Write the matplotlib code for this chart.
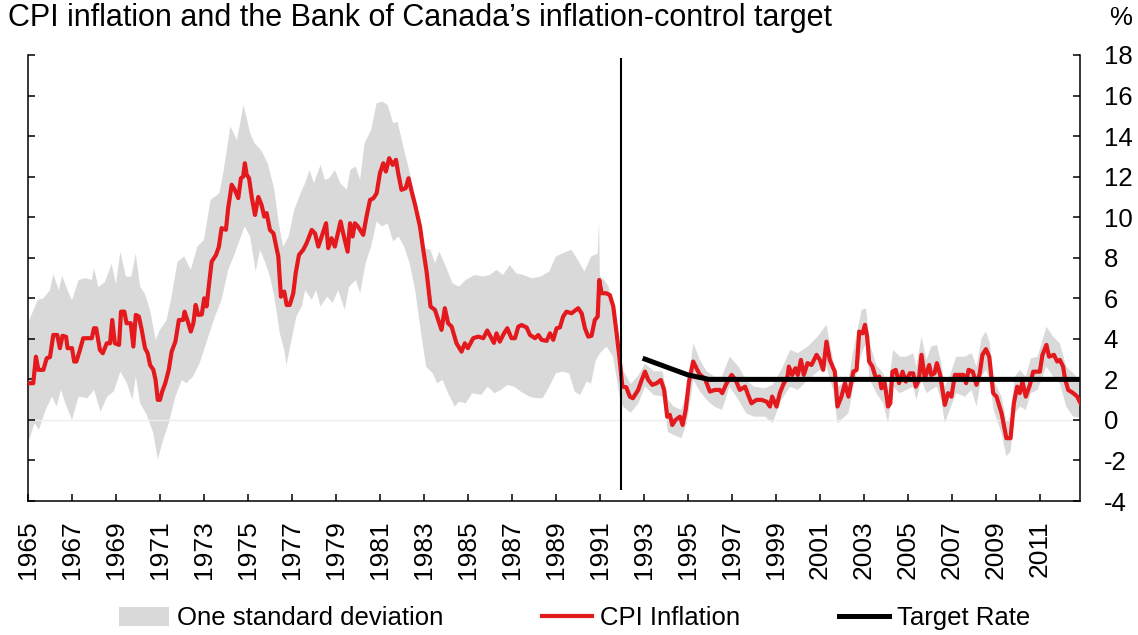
import numpy as np
import matplotlib
matplotlib.use("Agg")
import matplotlib.pyplot as plt
from matplotlib.patches import Patch
from matplotlib.lines import Line2D

plt.rcParams['font.family'] = ['Liberation Sans', 'DejaVu Sans']

# ---------------------------------------------------------------
# Data
# ---------------------------------------------------------------

cpi_years = [
	1965.0, 1965.24, 1965.36, 1965.47, 1965.7, 1965.85, 1966.0, 1966.15, 1966.33, 1966.45,
	1966.57, 1966.73, 1966.8, 1967.0, 1967.1, 1967.2, 1967.36, 1967.51, 1967.9, 1968.0,
	1968.1, 1968.27, 1968.4, 1968.58, 1968.73, 1968.83, 1968.95, 1969.14, 1969.23, 1969.38,
	1969.48, 1969.67, 1969.79, 1969.9, 1970.04, 1970.17, 1970.32, 1970.44, 1970.55, 1970.7,
	1970.8, 1970.9, 1971.0, 1971.1, 1971.24, 1971.4, 1971.53, 1971.7, 1971.86, 1972.05,
	1972.12, 1972.29, 1972.4, 1972.52, 1972.62, 1972.74, 1972.9, 1973.01, 1973.12, 1973.2,
	1973.35, 1973.55, 1973.68, 1973.8, 1974.0, 1974.1, 1974.26, 1974.4, 1974.56, 1974.68,
	1974.78, 1974.86, 1974.94, 1975.05, 1975.17, 1975.32, 1975.47, 1975.62, 1975.74, 1975.85,
	1976.0, 1976.16, 1976.38, 1976.5, 1976.65, 1976.76, 1976.9, 1977.06, 1977.17, 1977.32,
	1977.51, 1977.66, 1977.9, 1978.05, 1978.2, 1978.35, 1978.55, 1978.65, 1978.8, 1978.95,
	1979.21, 1979.33, 1979.53, 1979.64, 1979.76, 1979.86, 1980.0, 1980.24, 1980.39, 1980.55,
	1980.7, 1980.85, 1981.0, 1981.15, 1981.27, 1981.42, 1981.58, 1981.73, 1981.83, 1981.98,
	1982.17, 1982.3, 1982.44, 1982.6, 1982.82, 1982.97, 1983.12, 1983.3, 1983.5, 1983.65,
	1983.8, 1983.95, 1984.1, 1984.26, 1984.48, 1984.71, 1984.86, 1985.0, 1985.24, 1985.47,
	1985.7, 1985.88, 1986.03, 1986.18, 1986.3, 1986.45, 1986.64, 1986.79, 1986.98, 1987.14,
	1987.29, 1987.44, 1987.67, 1987.82, 1988.05, 1988.2, 1988.35, 1988.58, 1988.73, 1988.88,
	1989.03, 1989.18, 1989.33, 1989.48, 1989.71, 1990.01, 1990.17, 1990.32, 1990.47, 1990.62,
	1990.77, 1990.9, 1990.97, 1991.08, 1991.28, 1991.45, 1991.61, 1991.76, 1991.9, 1992.02,
	1992.2, 1992.36, 1992.5, 1992.74, 1992.9, 1993.05, 1993.2, 1993.38, 1993.58, 1993.77,
	1993.92, 1994.06, 1994.18, 1994.29, 1994.44, 1994.64, 1994.76, 1994.9, 1995.05, 1995.24,
	1995.39, 1995.55, 1995.77, 1996.0, 1996.23, 1996.45, 1996.56, 1996.76, 1996.99, 1997.17,
	1997.36, 1997.6, 1997.74, 1997.89, 1998.12, 1998.35, 1998.58, 1998.73, 1998.83, 1999.03,
	1999.18, 1999.33, 1999.53, 1999.59, 1999.74, 1999.89, 2000.0, 2000.14, 2000.27, 2000.44,
	2000.62, 2000.85, 2001.0, 2001.15, 2001.3, 2001.45, 2001.68, 2001.8, 2001.98, 2002.14,
	2002.3, 2002.52, 2002.67, 2002.79, 2002.94, 2003.05, 2003.15, 2003.24, 2003.39, 2003.55,
	2003.7, 2003.8, 2003.95, 2004.1, 2004.2, 2004.3, 2004.45, 2004.6, 2004.76, 2004.91,
	2005.09, 2005.24, 2005.36, 2005.5, 2005.62, 2005.77, 2005.97, 2006.06, 2006.21, 2006.32,
	2006.47, 2006.68, 2006.83, 2006.98, 2007.14, 2007.3, 2007.53, 2007.65, 2007.76, 2007.95,
	2008.12, 2008.27, 2008.39, 2008.55, 2008.7, 2008.88, 2009.03, 2009.26, 2009.48, 2009.67,
	2009.82, 2009.97, 2010.09, 2010.21, 2010.36, 2010.55, 2010.7, 2010.88, 2011.0, 2011.12,
	2011.3, 2011.42, 2011.64, 2011.79, 2011.91, 2012.06, 2012.14, 2012.29, 2012.52, 2012.7,
	2012.85,
]
cpi_values = [
	1.81, 1.81, 3.12, 2.47, 2.47, 3.04, 3.1, 4.19, 4.19, 3.54,
	4.15, 4.1, 3.54, 3.54, 2.88, 2.88, 3.45, 4.03, 4.03, 4.52,
	4.52, 3.45, 3.29, 3.78, 3.78, 4.93, 3.78, 3.70, 5.34, 5.34,
	4.77, 4.77, 3.62, 5.18, 5.1, 4.44, 3.54, 3.29, 2.71, 2.47,
	1.97, 0.99, 0.99, 1.40, 1.81, 2.47, 3.37, 3.86, 4.93, 4.93,
	5.34, 4.77, 4.36, 4.77, 5.67, 5.18, 5.2, 6.0, 5.6, 6.41,
	7.81, 8.14, 8.55, 9.46, 9.38, 10.44, 11.6, 11.35, 10.94, 11.92,
	12.0, 12.66, 12.1, 11.92, 11.0, 10.11, 11.0, 10.6, 10.03, 10.2,
	9.37, 9.2, 8.06, 6.08, 6.33, 5.67, 5.67, 6.25, 7.24, 8.14,
	8.39, 8.7, 9.37, 9.2, 8.55, 9.05, 9.7, 8.47, 8.96, 8.55,
	9.79, 9.2, 8.3, 9.7, 9.05, 9.7, 9.54, 9.13, 10.03, 10.85,
	10.93, 11.18, 12.17, 12.66, 12.25, 12.91, 12.58, 12.83, 12.17, 11.35,
	11.43, 11.92, 11.27, 10.6, 9.54, 8.39, 7.32, 5.59, 5.43, 4.93,
	4.44, 5.51, 4.77, 4.6, 3.78, 3.37, 3.78, 3.54, 4.03, 4.11,
	4.03, 4.41, 4.11, 3.8, 4.27, 3.86, 4.27, 4.52, 4.03, 4.03,
	4.6, 4.68, 4.56, 4.19, 4.03, 4.19, 3.95, 3.9, 4.27, 3.95,
	4.52, 4.56, 5.1, 5.34, 5.26, 5.51, 5.26, 4.52, 4.11, 4.15,
	4.93, 5.1, 6.9, 6.25, 6.25, 6.16, 5.59, 4.27, 2.96, 1.64,
	1.61, 1.15, 1.07, 1.48, 1.97, 2.38, 1.97, 1.73, 1.81, 1.97,
	1.48, 0.16, 0.25, -0.25, 0.0, 0.16, -0.25, 0.49, 1.89, 2.88,
	2.55, 2.22, 2.05, 1.40, 1.48, 1.48, 1.32, 1.81, 2.22, 1.97,
	1.48, 1.64, 1.23, 0.82, 0.99, 0.99, 0.9, 0.66, 1.15, 0.66,
	1.32, 1.73, 2.14, 2.63, 2.22, 2.55, 2.22, 2.96, 2.22, 2.8,
	2.71, 3.21, 2.96, 2.47, 3.86, 2.96, 2.38, 0.66, 1.15, 1.81,
	1.15, 2.38, 2.47, 4.36, 4.27, 4.69, 4.11, 2.88, 2.63, 2.05,
	2.14, 1.56, 1.81, 0.66, 0.82, 2.38, 2.47, 1.81, 2.38, 1.89,
	2.30, 2.30, 1.64, 1.97, 3.21, 2.05, 2.71, 2.22, 2.30, 2.8,
	2.22, 0.74, 1.32, 1.15, 2.22, 2.22, 2.22, 1.81, 2.47, 2.38,
	1.73, 2.30, 3.21, 3.49, 3.12, 1.32, 1.15, 0.33, -0.9, -0.9,
	0.82, 1.64, 1.32, 1.89, 1.15, 1.73, 2.38, 2.38, 2.38, 3.21,
	3.70, 3.12, 3.21, 2.88, 2.96, 2.63, 2.05, 1.48, 1.32, 1.15,
	0.82,
]

# upper edge of the one-standard-deviation band
band_hi_years = [
	1965.0, 1965.45, 1965.7, 1966.0, 1966.15, 1966.4, 1966.55, 1966.8, 1967.0, 1967.3,
	1967.6, 1967.9, 1968.0, 1968.2, 1968.5, 1968.8, 1969.0, 1969.2, 1969.45, 1969.7,
	1969.9, 1970.1, 1970.3, 1970.55, 1970.8, 1971.0, 1971.3, 1971.5, 1971.8, 1972.1,
	1972.4, 1972.7, 1973.0, 1973.3, 1973.7, 1973.9, 1974.2, 1974.5, 1974.8, 1975.1,
	1975.3, 1975.6, 1975.9, 1976.2, 1976.4, 1976.6, 1976.85, 1977.1, 1977.4, 1977.6,
	1977.8, 1978.0, 1978.3, 1978.5, 1978.7, 1978.95, 1979.2, 1979.5, 1979.65, 1979.9,
	1980.1, 1980.3, 1980.6, 1980.85, 1981.1, 1981.35, 1981.6, 1981.8, 1982.1, 1982.4,
	1982.7, 1983.0, 1983.3, 1983.5, 1983.7, 1984.0, 1984.3, 1984.6, 1984.9, 1985.3,
	1985.7, 1986.0, 1986.3, 1986.6, 1986.9, 1987.2, 1987.5, 1987.9, 1988.3, 1988.7,
	1989.0, 1989.3, 1989.7, 1990.0, 1990.3, 1990.6, 1990.9, 1990.96, 1991.0, 1991.2,
	1991.4, 1991.6, 1991.8, 1991.95, 1992.05, 1992.4, 1992.75, 1993.05, 1993.45, 1993.85,
	1994.1, 1994.35, 1994.7, 1994.95, 1995.25, 1995.55, 1995.85, 1996.2, 1996.55, 1996.9,
	1997.3, 1997.65, 1998.0, 1998.5, 1998.85, 1999.25, 1999.65, 2000.0, 2000.45, 2000.9,
	2001.3, 2001.6, 2001.8, 2002.3, 2002.5, 2002.9, 2003.1, 2003.27, 2003.57, 2003.88,
	2004.1, 2004.33, 2004.64, 2004.94, 2005.24, 2005.39, 2005.62, 2005.85, 2006.06, 2006.32,
	2006.52, 2006.68, 2006.9, 2007.2, 2007.6, 2007.9, 2008.12, 2008.35, 2008.55, 2008.73,
	2008.9, 2009.26, 2009.48, 2009.67, 2009.86, 2010.1, 2010.36, 2010.6, 2010.9, 2011.3,
	2011.6, 2011.91, 2012.2, 2012.52, 2012.85,
]
band_hi_values = [
	4.78, 5.92, 6.0, 6.4, 7.2, 6.4, 7.1, 6.4, 5.9, 6.9,
	7.0, 6.9, 7.5, 6.56, 6.8, 7.7, 6.7, 8.3, 7.07, 7.07,
	8.2, 6.56, 6.25, 5.43, 3.95, 4.44, 4.93, 5.92, 7.8, 8.06,
	7.4, 8.55, 8.88, 10.85, 11.18, 12.33, 14.47, 13.8, 15.54, 14.14,
	13.65, 13.3, 12.66, 11.35, 9.7, 8.55, 9.05, 10.35, 11.2, 11.67,
	12.33, 11.67, 12.58, 11.84, 11.92, 12.33, 11.67, 11.35, 12.33, 12.5,
	11.84, 13.65, 14.3, 15.62, 15.7, 15.54, 14.63, 14.7, 13.32, 12.0,
	10.52, 8.47, 8.39, 7.73, 8.3, 7.56, 6.74, 6.57, 6.9, 7.15,
	7.07, 7.15, 7.4, 7.15, 7.64, 7.23, 7.15, 6.99, 7.07, 7.32,
	8.06, 8.22, 8.39, 7.89, 7.32, 8.06, 8.2, 9.8, 7.1, 6.9,
	6.57, 5.59, 4.44, 2.6, 2.45, 1.77, 2.2, 2.78, 2.4, 2.4,
	1.0, 0.66, 0.49, 1.32, 3.78, 2.96, 2.4, 2.14, 2.14, 3.12,
	2.63, 1.97, 1.64, 1.56, 1.73, 2.47, 3.45, 3.29, 3.62, 4.11,
	4.69, 2.96, 1.64, 1.97, 3.29, 5.43, 5.5, 3.78, 2.71, 2.3,
	1.48, 3.45, 3.12, 3.12, 3.29, 2.63, 4.11, 2.96, 3.62, 3.7,
	2.8, 1.64, 2.14, 3.12, 3.12, 3.29, 2.63, 4.03, 4.36, 3.78,
	1.97, 1.15, -0.08, 0.16, 2.14, 2.47, 2.14, 3.04, 3.12, 4.6,
	4.11, 3.78, 2.63, 2.3, 1.89,
]

# lower edge of the one-standard-deviation band
band_lo_years = [
	1965.0, 1965.3, 1965.5, 1965.8, 1966.1, 1966.3, 1966.5, 1966.7, 1967.0, 1967.3,
	1967.7, 1968.0, 1968.3, 1968.6, 1968.9, 1969.2, 1969.5, 1969.75, 1969.9, 1970.1,
	1970.4, 1970.7, 1970.9, 1971.1, 1971.4, 1971.7, 1972.0, 1972.2, 1972.5, 1972.8,
	1973.1, 1973.5, 1973.8, 1974.1, 1974.35, 1974.6, 1974.85, 1975.1, 1975.35, 1975.55,
	1975.8, 1976.0, 1976.2, 1976.45, 1976.65, 1976.75, 1976.95, 1977.2, 1977.45, 1977.6,
	1977.9, 1978.1, 1978.3, 1978.6, 1978.85, 1979.1, 1979.4, 1979.6, 1979.9, 1980.1,
	1980.35, 1980.6, 1980.85, 1981.1, 1981.35, 1981.6, 1981.85, 1982.1, 1982.35, 1982.6,
	1982.85, 1983.1, 1983.4, 1983.6, 1983.85, 1984.1, 1984.4, 1984.6, 1984.9, 1985.2,
	1985.6, 1985.9, 1986.2, 1986.5, 1986.8, 1987.1, 1987.4, 1987.8, 1988.1, 1988.4,
	1988.7, 1989.0, 1989.3, 1989.6, 1989.85, 1990.1, 1990.4, 1990.6, 1990.8, 1991.0,
	1991.3, 1991.6, 1991.9, 1992.05, 1992.4, 1992.75, 1993.05, 1993.45, 1993.85, 1994.1,
	1994.35, 1994.7, 1994.95, 1995.25, 1995.55, 1995.85, 1996.2, 1996.55, 1996.9, 1997.3,
	1997.65, 1998.0, 1998.5, 1998.85, 1999.25, 1999.65, 2000.0, 2000.45, 2000.9, 2001.3,
	2001.6, 2001.8, 2002.3, 2002.5, 2002.9, 2003.1, 2003.27, 2003.57, 2003.88, 2004.1,
	2004.33, 2004.64, 2004.94, 2005.24, 2005.39, 2005.62, 2005.85, 2006.06, 2006.32, 2006.52,
	2006.68, 2006.9, 2007.2, 2007.6, 2007.9, 2008.12, 2008.35, 2008.55, 2008.73, 2008.9,
	2009.26, 2009.48, 2009.67, 2009.86, 2010.1, 2010.36, 2010.6, 2010.9, 2011.3, 2011.6,
	2011.91, 2012.2, 2012.52, 2012.85,
]
band_lo_values = [
	-1.15, -0.16, -0.49, 0.49, 1.15, 0.66, 1.48, 0.82, 0.0, 1.15,
	1.07, 1.48, 0.41, 1.15, 1.4, 2.38, 1.81, 0.99, 2.14, 0.82,
	0.25, -0.66, -1.97, -1.15, -0.16, 1.15, 1.97, 1.81, 2.14, 2.79,
	3.78, 5.1, 5.92, 7.4, 8.06, 8.8, 9.54, 9.05, 7.32, 8.39,
	7.73, 7.07, 6.08, 4.27, 3.45, 2.71, 3.78, 5.1, 5.6, 6.41,
	5.92, 6.41, 5.59, 6.08, 5.76, 6.41, 5.43, 6.57, 6.9, 6.25,
	7.73, 8.55, 9.79, 9.54, 9.7, 8.8, 9.05, 8.55, 7.73, 6.41,
	4.44, 2.63, 2.3, 1.81, 1.97, 1.32, 0.66, 0.9, 0.82, 1.32,
	1.23, 1.64, 1.32, 1.48, 1.73, 1.64, 1.4, 1.15, 1.07, 1.07,
	1.64, 2.3, 2.38, 2.3, 1.4, 1.23, 1.9, 1.8, 2.9, 3.29,
	3.62, 3.12, 1.15, 0.66, 0.35, 0.82, 1.64, 1.23, 1.15, -0.6,
	-0.74, -0.9, -0.16, 1.97, 1.4, 0.99, 0.66, 0.49, 1.64, 0.99,
	0.33, 0.16, 0.16, -0.16, 0.99, 1.64, 1.48, 1.97, 2.38, 2.63,
	1.48, -0.16, 0.33, 1.48, 3.29, 3.78, 1.97, 1.32, 0.82, -0.16,
	1.64, 1.32, 1.48, 1.64, 0.99, 1.97, 1.32, 1.48, 1.64, 0.99,
	-0.16, 0.49, 1.32, 1.15, 1.48, 0.66, 2.14, 2.47, 1.97, 0.49,
	-0.66, -1.8, -1.56, 0.33, 0.66, 0.49, 1.32, 1.48, 2.63, 2.14,
	1.81, 0.66, 0.16, 0.1,
]

target_years  = [1993.05, 1995.0, 1995.95, 2012.85]
target_values = [3.0, 2.22, 2.0, 2.0]

regime_year  = 1991.95
regime_span  = (-3.45, 17.85)

x_ticks = list(range(1965, 2012, 2))
y_ticks = list(range(-4, 19, 2))

# ---------------------------------------------------------------
# Plot
# ---------------------------------------------------------------

RED   = "#e3191e"
GREY  = "#d9d9d9"

fig = plt.figure(figsize=(11.38, 6.35), dpi=100)
ax = fig.add_axes([0.0246, 0.211, 0.9245, 0.7024])

band_x = np.r_[band_hi_years, band_lo_years[::-1]]
band_y = np.r_[band_hi_values, band_lo_values[::-1]]
ax.fill(band_x, band_y, color=GREY, linewidth=0, zorder=1)

ax.axhline(0, color="#eeeeee", linewidth=1.0, zorder=1.5)
ax.plot(cpi_years, cpi_values, color=RED, linewidth=3.0, zorder=3, solid_joinstyle="round")
ax.plot(target_years, target_values, color="black", linewidth=3.6, zorder=4)
ax.vlines(regime_year, regime_span[0], regime_span[1], color="black", linewidth=1.5, zorder=4)

ax.set_xlim(1965.0, 2012.83)
ax.set_ylim(-4, 18)

ax.set_xticks(x_ticks)
ax.set_xticklabels([str(y) for y in x_ticks], rotation=90, fontsize=19)
ax.set_yticks(y_ticks)
ax.set_yticklabels([str(v) for v in y_ticks], fontsize=18.5)

ax.tick_params(axis='x', direction='in', length=5, width=1.1, pad=14)
ax.tick_params(axis='y', direction='in', length=5, width=1.1, pad=17,
	       left=True, right=True, labelleft=False, labelright=True)

ax.spines['top'].set_visible(False)
for side in ('left', 'right', 'bottom'):
	ax.spines[side].set_linewidth(1.1)

fig.text(0.007, 0.972, "CPI inflation and the Bank of Canada\u2019s inflation-control target",
	 fontsize=22, ha='left', va='center')
fig.text(0.975, 0.972, "%", fontsize=18.5, ha='left', va='center')

handles = [
	Patch(facecolor=GREY, edgecolor='none'),
	Line2D([], [], color=RED, linewidth=3.0),
	Line2D([], [], color="black", linewidth=3.6),
]
labels = ["One standard deviation", "CPI Inflation", "Target Rate"]
fig.legend(handles, labels, loc='center', bbox_to_anchor=(0.505, 0.026), ncol=3,
	   frameon=False, fontsize=18.5, handlelength=1.95, handleheight=0.8,
	   handletextpad=0.3, columnspacing=3.85, borderaxespad=0)

fig.savefig("out.png", dpi=100)
